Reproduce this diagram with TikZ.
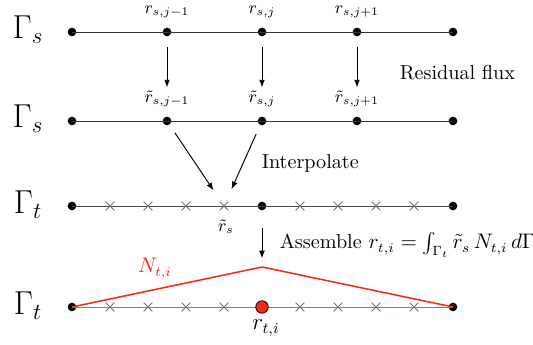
\documentclass[tikz,border=0pt]{standalone}
\usepackage{amsmath,amssymb}
\usepackage{xcolor}
\usetikzlibrary{arrows.meta,shapes.misc}

\definecolor{nred}{RGB}{240,45,20}

\begin{document}
\begin{tikzpicture}[x=0.0183cm,y=-0.0183cm,
	every node/.style={font=\fontsize{10.5}{12.6}\selectfont},
	dot/.style={circle,fill=black,inner sep=0pt,minimum size=4.5pt},
	xmark/.style={cross out,draw=black!55,inner sep=0pt,minimum size=4.2pt,line width=0.4pt},
	arr/.style={-{Latex[length=4pt,width=3pt]},line width=0.5pt}]
	
	\useasboundingbox (0,0) rectangle (533,345);
	
	% Row labels
	\node[anchor=base,font=\LARGE] (g1) at (28,39) {$\Gamma_s$};
	\node[anchor=base,font=\LARGE] (g2) at (28,128) {$\Gamma_s$};
	\node[anchor=base,font=\LARGE] (g3) at (28,214) {$\Gamma_t$};
	\node[anchor=base,font=\LARGE] (g4) at (28,315) {$\Gamma_t$};
	
	% Source mesh, two rows
	\foreach \i/\x in {1/72,2/167,3/262,4/357,5/453} {
		\node[dot] (a\i) at (\x,32) {};
		\node[dot] (b\i) at (\x,121) {};
	}
	\draw[line width=0.5pt,black!80] (a1.center) -- (a5.center);
	\draw[line width=0.5pt,black!80] (b1.center) -- (b5.center);
	
	\node[anchor=base,font=\small] (ra2) at (167,14) {$r_{s,j-1}$};
	\node[anchor=base,font=\small] (ra3) at (262,14) {$r_{s,j}$};
	\node[anchor=base,font=\small] (ra4) at (357,14) {$r_{s,j+1}$};
	\node[anchor=base,font=\small] (rb2) at (167,103) {$\tilde{r}_{s,j-1}$};
	\node[anchor=base,font=\small] (rb3) at (262,103) {$\tilde{r}_{s,j}$};
	\node[anchor=base,font=\small] (rb4) at (357,103) {$\tilde{r}_{s,j+1}$};
	
	% Residual flux arrows
	\foreach \i in {2,3,4}
		\draw[arr] (a\i) -- (b\i) [shorten <=5.5pt,shorten >=15pt];
	\node[anchor=base west] (flux) at (393,80) {Residual flux};
	
	% Target mesh
	\node[dot] (c1) at (72,206) {};
	\node[dot] (c3) at (262,206) {};
	\node[dot] (c5) at (453,206) {};
	\draw[line width=0.5pt,black!70] (c1.center) -- (c5.center);
	\foreach \k/\x in {1/110,2/148,3/186,4/224,6/300,7/338,8/376,9/414}
		\node[xmark] (x\k) at (\x,206) {};
	\node[anchor=base,font=\small] (rs) at (226,232) {$\tilde{r}_s$};
	
	% Interpolation
	\draw[arr] (b2) -- (x4) [shorten <=5pt,shorten >=7pt];
	\draw[arr] (b3) -- (x4) [shorten <=5pt,shorten >=7pt];
	\node[anchor=base west] (interp) at (255,169) {Interpolate};
	
	% Assembly row
	\coordinate (peak) at (262,267);
	\node[dot] (d1) at (72,307) {};
	\node[dot] (d5) at (453,307) {};
	\draw[line width=0.5pt,black!50] (d1.center) -- (d5.center);
	\foreach \k/\x in {1/110,2/148,3/186,4/224,6/300,7/338,8/376,9/414}
		\node[xmark] (y\k) at (\x,307) {};
	\draw[nred,line width=0.8pt] (d1.center) -- (peak) -- (d5.center);
	\node[circle,fill=nred,draw=black,line width=0.4pt,inner sep=0pt,minimum size=6.5pt] (d3) at (262,307) {};
	\node[anchor=base,text=nred] (nti) at (155,273) {$N_{t,i}$};
	\node[anchor=base,font=\large] (rti) at (266,330) {$r_{t,i}$};
	
	\draw[arr] (c3) -- (peak) [shorten <=9pt,shorten >=4.5pt];
	\node[anchor=base west] (assem) at (273,249) {Assemble $r_{t,i}=\int_{\Gamma_t}\tilde{r}_s\,N_{t,i}\,d\Gamma$};
	
\end{tikzpicture}
\end{document}
